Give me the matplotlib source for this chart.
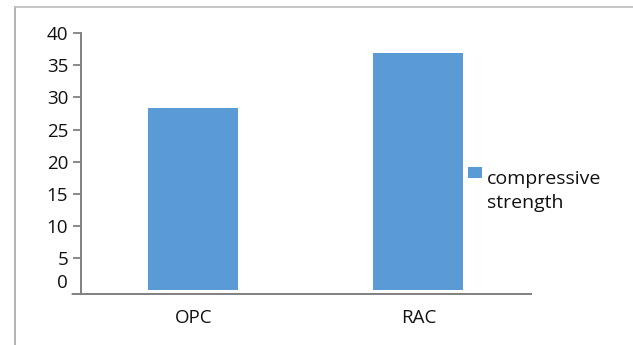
import matplotlib
matplotlib.use("Agg")
import matplotlib.pyplot as plt
from matplotlib.patches import Rectangle
from matplotlib.lines import Line2D

categories = ["OPC", "RAC"]
compressive_strength = [28.3, 37.0]
series_label = "compressive\nstrength"
y_ticks = [5, 10, 15, 20, 25, 30, 35, 40]
zero_label = "0"

BAR_COLOR = "#5B9BD5"
AXIS_COLOR = "#808080"
TEXT_COLOR = "#111111"
FONT_SIZE = 13.5

plt.rcParams["font.family"] = ["Open Sans", "DejaVu Sans"]

W, H = 633, 345
fig = plt.figure(figsize=(W / 100, H / 100), dpi=100)
fig.patch.set_facecolor("white")

# outer chart-area border (top and left edges visible)
fig.add_artist(Line2D([15 / W, 15 / W], [0, 1 - 6.7 / H],
                      transform=fig.transFigure, color="#A6A6A6", lw=1.2))
fig.add_artist(Line2D([15 / W, 1], [1 - 6.7 / H, 1 - 6.7 / H],
                      transform=fig.transFigure, color="#BDBDBD", lw=1.2))

ax = fig.add_axes([80.7 / W, 1 - 294 / H, (531 - 80.7) / W, (294 - 33.3) / H])
x = list(range(len(categories)))
bars = ax.bar(x, compressive_strength, width=0.4, color=BAR_COLOR, zorder=2)

ax.set_xlim(-0.5, len(categories) - 0.5)
ax.set_ylim(-0.62, 40)
ax.set_yticks(y_ticks)
ax.set_xticks(x)
ax.set_xticklabels(categories)

for side in ("top", "right"):
    ax.spines[side].set_visible(False)
for side in ("left", "bottom"):
    ax.spines[side].set_color(AXIS_COLOR)
    ax.spines[side].set_linewidth(1.4)

ax.tick_params(axis="y", direction="out", length=6, width=1.3, color=AXIS_COLOR,
               labelsize=FONT_SIZE, labelcolor=TEXT_COLOR, pad=3)
ax.tick_params(axis="x", length=0, labelsize=FONT_SIZE, labelcolor=TEXT_COLOR, pad=11)

# zero label sits a little above the baseline, with no tick mark of its own
ax.annotate(zero_label, xy=(0, 0), xycoords=("axes fraction", "data"),
            xytext=(-9, 5), textcoords="offset points", ha="right", va="center",
            fontsize=FONT_SIZE, color=TEXT_COLOR)
# short stub where the category axis crosses the value axis
ax.annotate("", xy=(0, 0), xycoords="axes fraction", xytext=(-6, 0),
            textcoords="offset points",
            arrowprops=dict(arrowstyle="-", color=AXIS_COLOR, lw=1.4,
                            shrinkA=0, shrinkB=0))

# legend: swatch aligned with the first line of the two-line label
fig.add_artist(Rectangle((467.7 / W, 1 - 178 / H), 14.6 / W, 11.3 / H,
                         transform=fig.transFigure, facecolor=BAR_COLOR, edgecolor="none"))
fig.text(487 / W, 1 - 207.5 / H, series_label, ha="left", va="baseline",
         fontsize=14, color=TEXT_COLOR, linespacing=1.4, transform=fig.transFigure)

fig.savefig("out.png", dpi=100, facecolor="white")
